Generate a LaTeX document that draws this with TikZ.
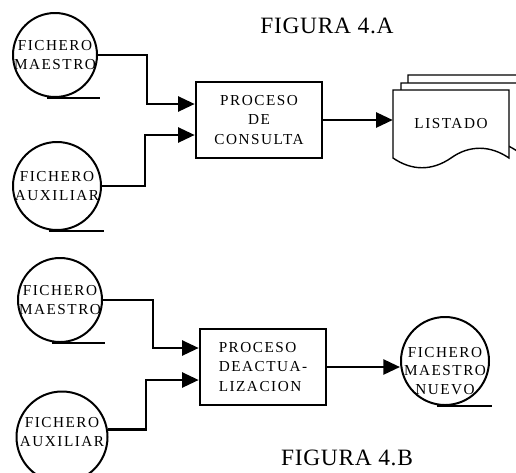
\documentclass[tikz,border=0pt]{standalone}
\usepackage{fontspec}
\setmainfont{Liberation Serif}
\usetikzlibrary{arrows.meta, calc, shapes.geometric}

\tikzset{
  archivo/.style={circle, draw, line width=1.7pt, minimum size=2.52cm, inner sep=0pt},
  rotulo/.style={font=\fontsize{13}{15.5}\selectfont\addfontfeature{LetterSpace=10}, align=center},
  proceso/.style={rectangle, draw, line width=2.2pt, minimum width=3.78cm, minimum height=2.28cm,
    font=\fontsize{13}{16.5}\selectfont\addfontfeature{LetterSpace=10}},
  flujo/.style={line width=2.2pt, -{Triangle[length=0.5cm,width=0.45cm]}},
  raya/.style={line width=1.7pt},
  hoja/.style={line width=1.2pt, fill=white},
  titulo/.style={font=\fontsize{20}{22}\selectfont\addfontfeature{LetterSpace=3}}
}

\begin{document}
\begin{tikzpicture}[x=0.03cm, y=-0.03cm]
    \useasboundingbox (0,0) rectangle (516,472);

    % Figura 4.A: consulta
    \node[titulo] (figA) at (327,26) {FIGURA 4.A};
    \node[archivo, label={[rotulo]center:{FICHERO\\MAESTRO}}] (maestroA) at (55,55) {};
    \node[archivo, minimum size=2.64cm, label={[rotulo]center:{FICHERO\\AUXILIAR}}] (auxA) at (57,186) {};
    \node[proceso, align=center] (consulta) at (259,120) {PROCESO\\DE\\CONSULTA};

    % hojas del listado
    \foreach \dx/\dy in {15/15, 8/7, 0/0} {
        \draw[hoja, shift={(\dx,-\dy)}] (393,90) -- (509,90) -- (509,158)
            .. controls (490,145) and (469,145) .. (451,158)
            .. controls (432,171) and (412,171) .. (393,158) -- cycle;
    }
    \node[rotulo, minimum width=3.48cm, minimum height=2.04cm] (listado) at (451,124) {LISTADO};

    \draw[raya] ($(maestroA.south)+(-8,0)$) -- ($(maestroA.south -| maestroA.east)+(2,0)$);
    \draw[raya] ($(auxA.south)+(-8,0)$) -- ($(auxA.south -| auxA.east)+(2,0)$);
    \draw[flujo] (maestroA.east) -- ++(49,0) |- ($(consulta.west)+(0,-16)$);
    \draw[flujo] (auxA.east) -- ++(43,0) |- ($(consulta.west)+(0,15)$);
    \draw[flujo] (consulta.east) -- (consulta.east -| listado.west);

    % Figura 4.B: actualizacion
    \node[titulo] (figB) at (347,458) {FIGURA 4.B};
    \node[archivo, label={[rotulo]center:{FICHERO\\MAESTRO}}] (maestroB) at (60,300) {};
    \node[archivo, minimum size=2.73cm, label={[rotulo, yshift=0.15cm]center:{FICHERO\\AUXILIAR}}] (auxB) at (62,437) {};
    \node[proceso, align=left] (actualiza) at (263,367) {PROCESO\\DEACTUA-\\LIZACION};
    \node[archivo, minimum size=2.64cm, label={[rotulo, yshift=-0.3cm]center:{FICHERO\\MAESTRO\\NUEVO}}] (nuevo) at (445,361) {};

    \draw[raya] ($(maestroB.south)+(-8,0)$) -- ($(maestroB.south -| maestroB.east)+(2,0)$);
    \draw[raya] ($(auxB.south)+(-8,0)$) -- ($(auxB.south -| auxB.east)+(2,0)$);
    \draw[raya] ($(nuevo.south)+(-8,0)$) -- ($(nuevo.south -| nuevo.east)+(2,0)$);
    \draw[flujo] (maestroB.east) -- ++(50,0) |- ($(actualiza.west)+(0,-19)$);
    \draw[flujo] (auxB.9) -- ++(38,0) |- ($(actualiza.west)+(0,13)$);
    \draw[flujo] (actualiza.east) -- (actualiza.east -| nuevo.west);

\end{tikzpicture}
\end{document}
